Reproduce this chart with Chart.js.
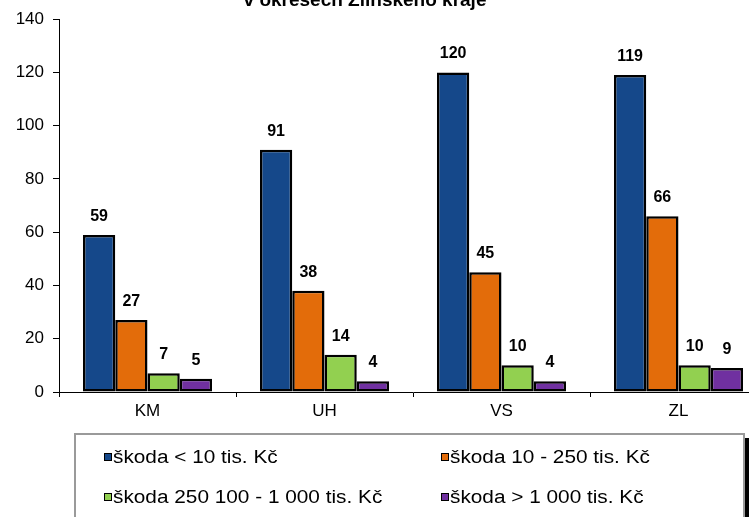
<!DOCTYPE html>
<html lang="cs">
<head>
<meta charset="utf-8">
<title>Škody podle výše v okresech Zlínského kraje</title>
<script src="https://cdn.jsdelivr.net/npm/chart.js@4/dist/chart.umd.min.js"></script>
<style>
    html, body { margin: 0; padding: 0; background: #fff; overflow: hidden; }
    #wrap { position: relative; width: 749px; height: 517px; overflow: hidden; background: #fff; }
    #chart { position: absolute; left: 0; top: 0; }
    #legend {
        position: absolute; left: 74px; top: 433px; width: 671px; height: 120px;
        box-sizing: border-box; border: 2px solid #9a9a9a; background: #fff;
        box-shadow: 5px 5px 0 #000;
    }
    .leg-box { position: absolute; width: 6px; height: 6px; border: 1px solid #000; }
    .leg-text {
        position: absolute; white-space: nowrap;
        font: 18px/18px "Liberation Sans", Arial, sans-serif; color: #000;
        transform: scaleX(1.155); transform-origin: left center;
    }
</style>
</head>
<body>
<div id="wrap">
    <canvas id="chart" width="790" height="517"></canvas>
    <div id="legend"></div>
</div>
<script>
// Požáry podle výše škody, okresy Zlínského kraje
const TITLE = 'v okresech Zlínského kraje';
const CATEGORIES = ['KM', 'UH', 'VS', 'ZL'];
const SERIES_LABELS = [
    'škoda < 10 tis. Kč',
    'škoda 10 - 250 tis. Kč',
    'škoda 250 100 - 1 000 tis. Kč',
    'škoda > 1 000 tis. Kč',
];
const DAMAGE_UNDER_10 = [59, 91, 120, 119];
const DAMAGE_10_250 = [27, 38, 45, 66];
const DAMAGE_250_1000 = [7, 14, 10, 10];
const DAMAGE_OVER_1000 = [5, 4, 4, 9];
const Y_MIN = 0;
const Y_MAX = 140;
const Y_STEP = 20;

const SERIES_COLORS = ['#15488a', '#e36c0a', '#92d050', '#7030a0'];
const FONT = '"Liberation Sans", Arial, sans-serif';

const seriesValues = [DAMAGE_UNDER_10, DAMAGE_10_250, DAMAGE_250_1000, DAMAGE_OVER_1000];

// title is cut off at the top of the picture, only its lower part shows
const titlePlugin = {
    id: 'cutTitle',
    afterDraw(chart) {
        const ctx = chart.ctx;
        ctx.save();
        ctx.font = `bold 19px ${FONT}`;
        ctx.fillStyle = '#000';
        ctx.textAlign = 'center';
        ctx.textBaseline = 'alphabetic';
        ctx.fillText(TITLE, 365, 6);
        ctx.restore();
    },
};

const valueLabels = {
    id: 'valueLabels',
    afterDatasetsDraw(chart) {
        const ctx = chart.ctx;
        ctx.save();
        ctx.font = `bold 16px ${FONT}`;
        ctx.fillStyle = '#000';
        ctx.textAlign = 'center';
        ctx.textBaseline = 'alphabetic';
        chart.data.datasets.forEach((ds, i) => {
            chart.getDatasetMeta(i).data.forEach((bar, j) => {
                ctx.fillText(String(ds.data[j]), bar.x, bar.y - 14);
            });
        });
        ctx.restore();
    },
};

const chart = new Chart(document.getElementById('chart'), {
    type: 'bar',
    data: {
        labels: CATEGORIES,
        datasets: seriesValues.map((vals, i) => ({
            label: SERIES_LABELS[i],
            data: vals,
            backgroundColor: SERIES_COLORS[i],
            borderColor: '#000',
            borderWidth: 2.5,
            borderSkipped: false,
            categoryPercentage: 0.729,
            barPercentage: 1.0,
        })),
    },
    options: {
        responsive: false,
        animation: false,
        layout: { padding: { left: 0, right: 23, top: 19, bottom: 95 } },
        plugins: {
            legend: { display: false },
            title: { display: false },
            tooltip: { enabled: false },
        },
        scales: {
            x: {
                grid: {
                    offset: true,
                    drawOnChartArea: false,
                    drawTicks: true,
                    tickLength: 5,
                    color: '#000',
                },
                border: { color: '#000', width: 1 },
                ticks: { color: '#000', font: { family: FONT, size: 17 }, padding: 4 },
                afterFit: scale => { scale.height = 30; },
            },
            y: {
                min: Y_MIN,
                max: Y_MAX,
                grid: {
                    drawOnChartArea: false,
                    drawTicks: true,
                    tickLength: 6,
                    color: '#000',
                },
                border: { color: '#000', width: 1 },
                ticks: {
                    stepSize: Y_STEP,
                    color: '#000',
                    font: { family: FONT, size: 17 },
                    padding: 9,
                },
                afterFit: scale => { scale.width = 59; },
            },
        },
    },
    plugins: [titlePlugin, valueLabels],
});

// legend box below the plot, two columns
const legendEl = document.getElementById('legend');
const legPos = [[104, 463], [441, 463], [104, 503], [441, 503]];
chart.data.datasets.forEach((ds, i) => {
    const [x, baseline] = legPos[i];
    const box = document.createElement('div');
    box.className = 'leg-box';
    box.style.left = (x - 76) + 'px';
    box.style.top = (baseline - 10 - 435) + 'px';
    box.style.background = ds.backgroundColor;
    legendEl.appendChild(box);

    const txt = document.createElement('div');
    txt.className = 'leg-text';
    txt.textContent = ds.label;
    txt.style.left = (x + 9 - 76) + 'px';
    txt.style.top = (baseline - 15 - 435) + 'px';
    legendEl.appendChild(txt);
});
</script>
</body>
</html>
